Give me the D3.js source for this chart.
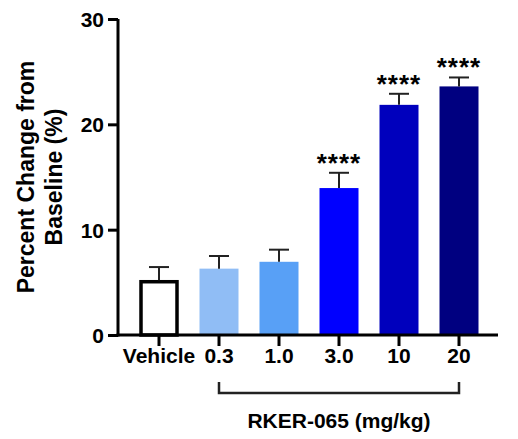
<!DOCTYPE html>
<html>
<head>
<meta charset="utf-8">
<script src="https://cdn.jsdelivr.net/npm/d3@7"></script>
<style>
  body { margin: 0; background: #fff; }
  text { font-family: "Liberation Sans", Arial, sans-serif; font-weight: bold; }
</style>
</head>
<body>
<div id="root"></div>
<script>
const w = 518;
const h = 439;

// data
const groups = ["Vehicle", "0.3", "1.0", "3.0", "10", "20"];
const means = [5.2, 6.3, 6.95, 13.95, 21.85, 23.6];
const sems = [1.25, 1.2, 1.15, 1.45, 1.05, 0.85];
const stars = ["", "", "", "****", "****", "****"];
const colors = ["#ffffff", "#90bdf5", "#58a0f6", "#0000ff", "#0000bd", "#000080"];
const yTicks = [0, 10, 20, 30];

const svg = d3.select("#root").append("svg").attr("width", w).attr("height", h);

const x = d3.scaleBand()
  .domain(groups)
  .range([129, 489])
  .paddingInner(0.35)
  .paddingOuter(0.175);

const y = d3.scaleLinear().domain([0, 30]).range([335, 19]);

const data = groups.map((g, i) => ({
  g, mean: means[i], sem: sems[i], star: stars[i], color: colors[i]
}));

// bars
svg.append("g")
  .selectAll("rect")
  .data(data)
  .join("rect")
  .attr("x", (d, i) => x(d.g) + (i === 0 ? 1.5 : 0))
  .attr("y", (d, i) => y(d.mean) + (i === 0 ? 1.5 : 0))
  .attr("width", (d, i) => x.bandwidth() - (i === 0 ? 3 : 0))
  .attr("height", (d, i) => y(0) - y(d.mean) - (i === 0 ? 1.5 : 0))
  .attr("fill", (d) => d.color)
  .attr("stroke", (d, i) => (i === 0 ? "#000" : "none"))
  .attr("stroke-width", 3.5);

// error bars (upper only)
const err = svg.append("g").attr("stroke", "#222").attr("stroke-width", 2);
err.selectAll(".stem")
  .data(data)
  .join("line")
  .attr("class", "stem")
  .attr("x1", (d) => x(d.g) + x.bandwidth() / 2)
  .attr("x2", (d) => x(d.g) + x.bandwidth() / 2)
  .attr("y1", (d) => y(d.mean))
  .attr("y2", (d) => y(d.mean + d.sem));
err.selectAll(".cap")
  .data(data)
  .join("line")
  .attr("class", "cap")
  .attr("x1", (d) => x(d.g) + x.bandwidth() / 2 - 10)
  .attr("x2", (d) => x(d.g) + x.bandwidth() / 2 + 10)
  .attr("y1", (d) => y(d.mean + d.sem))
  .attr("y2", (d) => y(d.mean + d.sem));

// significance stars
svg.append("g")
  .selectAll("text")
  .data(data.filter((d) => d.star))
  .join("text")
  .attr("x", (d) => x(d.g) + x.bandwidth() / 2)
  .attr("y", (d) => y(d.mean + d.sem) - 1)
  .attr("text-anchor", "middle")
  .attr("font-size", 26)
  .attr("letter-spacing", 1)
  .text((d) => d.star);

// y axis
const yAxis = svg.append("g")
  .attr("transform", "translate(118,0)")
  .call(d3.axisLeft(y).tickValues(yTicks).tickSize(10).tickPadding(4).tickSizeOuter(0));
yAxis.select(".domain").attr("stroke-width", 3).attr("d", `M0,${y(30)}V${y(0) + 1.5}`);
yAxis.selectAll(".tick line").attr("stroke-width", 3);
yAxis.selectAll(".tick text").attr("font-size", 21).attr("dy", "0.36em").attr("fill", "#000");

// x axis
const xAxis = svg.append("g")
  .attr("transform", `translate(0,${y(0)})`)
  .call(d3.axisBottom(x).tickSize(11).tickPadding(2).tickSizeOuter(0));
xAxis.select(".domain").attr("stroke-width", 3).attr("d", `M116.5,0H498`);
xAxis.selectAll(".tick line").attr("stroke-width", 3);
xAxis.selectAll(".tick text").attr("font-size", 21).attr("fill", "#000");

// y axis title
const yTitle = svg.append("text")
  .attr("transform", "translate(40,177) rotate(-90)")
  .attr("text-anchor", "middle")
  .attr("font-size", 23);
yTitle.append("tspan").attr("x", 0).attr("dy", "-0.25em").text("Percent Change from");
yTitle.append("tspan").attr("x", 0).attr("dy", "1.2em").text("Baseline (%)");

// dose bracket
const bx1 = x("0.3") + x.bandwidth() / 2;
const bx2 = x("20") + x.bandwidth() / 2;
svg.append("path")
  .attr("d", `M${bx1},382V393H${bx2}V382`)
  .attr("fill", "none")
  .attr("stroke", "#222")
  .attr("stroke-width", 2.5);

svg.append("text")
  .attr("x", (bx1 + bx2) / 2)
  .attr("y", 428)
  .attr("text-anchor", "middle")
  .attr("font-size", 21)
  .text("RKER-065 (mg/kg)");
</script>
</body>
</html>
